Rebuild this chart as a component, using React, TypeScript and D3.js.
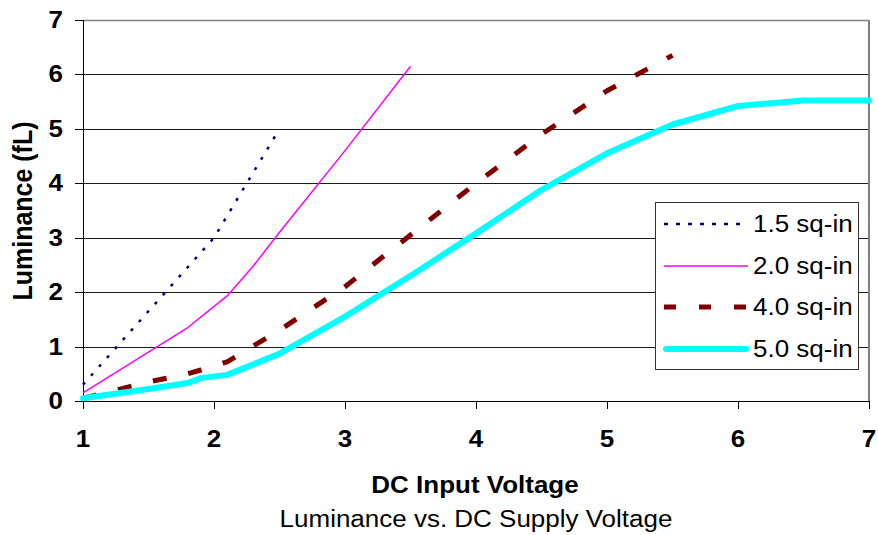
import * as d3 from "d3";

// series (x = DC volts, y = luminance fL)
const s15X = [1, 1.5, 2, 2.25, 2.5];
const s15Y = [0.3, 1.65, 3.0, 4.0, 5.0];

const s20X = [1, 1.8, 2.1, 2.3, 2.5, 3, 3.5];
const s20Y = [0.15, 1.35, 1.93, 2.48, 3.1, 4.6, 6.15];

const s40X = [1, 1.5, 1.8, 1.9, 2.1, 2.5, 3, 3.5, 4, 4.5, 5, 5.5];
const s40Y = [0.05, 0.35, 0.5, 0.57, 0.72, 1.3, 2.1, 3.05, 4.0, 4.9, 5.7, 6.35];

const s50X = [1, 1.5, 1.8, 1.9, 2.1, 2.5, 3, 3.5, 4, 4.5, 5, 5.5, 6, 6.5, 7];
const s50Y = [0.05, 0.22, 0.33, 0.42, 0.48, 0.87, 1.55, 2.3, 3.08, 3.88, 4.55, 5.08, 5.42, 5.52, 5.52];

const xTicks = [1, 2, 3, 4, 5, 6, 7];
const yTicks = [0, 1, 2, 3, 4, 5, 6, 7];

const seriesNames = ["1.5 sq-in", "2.0 sq-in", "4.0 sq-in", "5.0 sq-in"];

const FONT = "'Liberation Sans', Arial, sans-serif";
const SX = 1.13; // reference text is a bit wide

type Style = { color: string; width: number; dash?: string; cap?: "round" | "butt" };

const styles: Style[] = [
  { color: "#000080", width: 2.5, dash: "3,9" },
  { color: "#ff00ff", width: 1.5 },
  { color: "#800000", width: 5, dash: "14,22" },
  { color: "#00ffff", width: 6, cap: "round" },
];

const data = [
  d3.zip(s15X, s15Y),
  d3.zip(s20X, s20Y),
  d3.zip(s40X, s40Y),
  d3.zip(s50X, s50Y),
];

function T(props: {
  x: number; y: number; size: number; bold?: boolean; anchor?: string; rotate?: boolean; children: string;
}) {
  const { x, y, size, bold, anchor, rotate, children } = props;
  return (
    <text
      transform={`translate(${x},${y}) scale(${SX},1)${rotate ? " rotate(-90)" : ""}`}
      fontFamily={FONT}
      fontSize={size}
      fontWeight={bold ? "bold" : "normal"}
      textAnchor={anchor ?? "start"}
      fill="#000"
    >
      {children}
    </text>
  );
}

export default function App() {
  const W = 878, H = 535;
  const left = 83, right = 869, top = 20, bottom = 401;

  const x = d3.scaleLinear().domain([1, 7]).range([left, right]);
  const y = d3.scaleLinear().domain([0, 7]).range([bottom, top]);

  const line = d3.line<number[]>().x((d) => x(d[0])).y((d) => y(d[1]));

  // legend box
  const lg = { x0: 655, y0: 202, x1: 858, y1: 369 };
  const rowY = [224, 266, 307, 349];

  return (
    <svg width={W} height={H} style={{ position: "absolute", left: 0, top: 0, background: "#fff" }}>
      <rect width={W} height={H} fill="#fff" />

      {/* gridlines */}
      {yTicks.slice(1).map((t) => (
        <line key={t} x1={left} x2={right} y1={Math.round(y(t)) + 0.5} y2={Math.round(y(t)) + 0.5}
          stroke={t === 7 ? "#808080" : "#1a1a1a"} strokeWidth={t === 7 ? 1.5 : 1} />
      ))}
      <line x1={right} x2={right} y1={top} y2={bottom} stroke="#808080" strokeWidth={2} />

      {/* axes */}
      <line x1={left + 0.5} x2={left + 0.5} y1={top} y2={bottom + 1} stroke="#000" strokeWidth={1} />
      <line x1={left} x2={right} y1={bottom + 0.5} y2={bottom + 0.5} stroke="#000" strokeWidth={1.2} />
      {yTicks.map((t) => (
        <line key={t} x1={left - 8} x2={left} y1={Math.round(y(t)) + 0.5} y2={Math.round(y(t)) + 0.5} stroke="#000" />
      ))}
      {xTicks.map((t) => (
        <line key={t} x1={Math.round(x(t)) + 0.5} x2={Math.round(x(t)) + 0.5} y1={bottom} y2={bottom + 8} stroke="#000" />
      ))}

      {/* tick labels */}
      {yTicks.map((t) => (
        <T key={t} x={63} y={y(t) + 8} size={23} bold anchor="end">{String(t)}</T>
      ))}
      {xTicks.map((t) => (
        <T key={t} x={x(t)} y={447} size={23} bold anchor="middle">{String(t)}</T>
      ))}

      {/* series */}
      {data.map((d, i) => (
        <path key={i} d={line(d) ?? ""} fill="none" stroke={styles[i].color} strokeWidth={styles[i].width}
          strokeDasharray={styles[i].dash} strokeLinecap={styles[i].cap ?? "butt"} strokeLinejoin="round" />
      ))}

      {/* legend */}
      <rect x={lg.x0 + 0.5} y={lg.y0 + 0.5} width={lg.x1 - lg.x0} height={lg.y1 - lg.y0} fill="#fff" stroke="#333" strokeWidth={1} />
      {seriesNames.map((n, i) => (
        <g key={n}>
          <line x1={styles[i].cap === "round" ? 666 : 664} x2={styles[i].cap === "round" ? 746 : 748}
            y1={rowY[i]} y2={rowY[i]} stroke={styles[i].color} strokeWidth={styles[i].width}
            strokeDasharray={i === 0 ? "4,8" : i === 2 ? "12,23" : undefined} strokeLinecap={styles[i].cap ?? "butt"} />
          <T x={753} y={rowY[i] + 8} size={23}>{n}</T>
        </g>
      ))}

      {/* titles */}
      <T x={475} y={493} size={23} bold anchor="middle">DC Input Voltage</T>
      <T x={476} y={527} size={23} anchor="middle">Luminance vs. DC Supply Voltage</T>
      <T x={32} y={211} size={25} bold anchor="middle" rotate>Luminance (fL)</T>
    </svg>
  );
}
